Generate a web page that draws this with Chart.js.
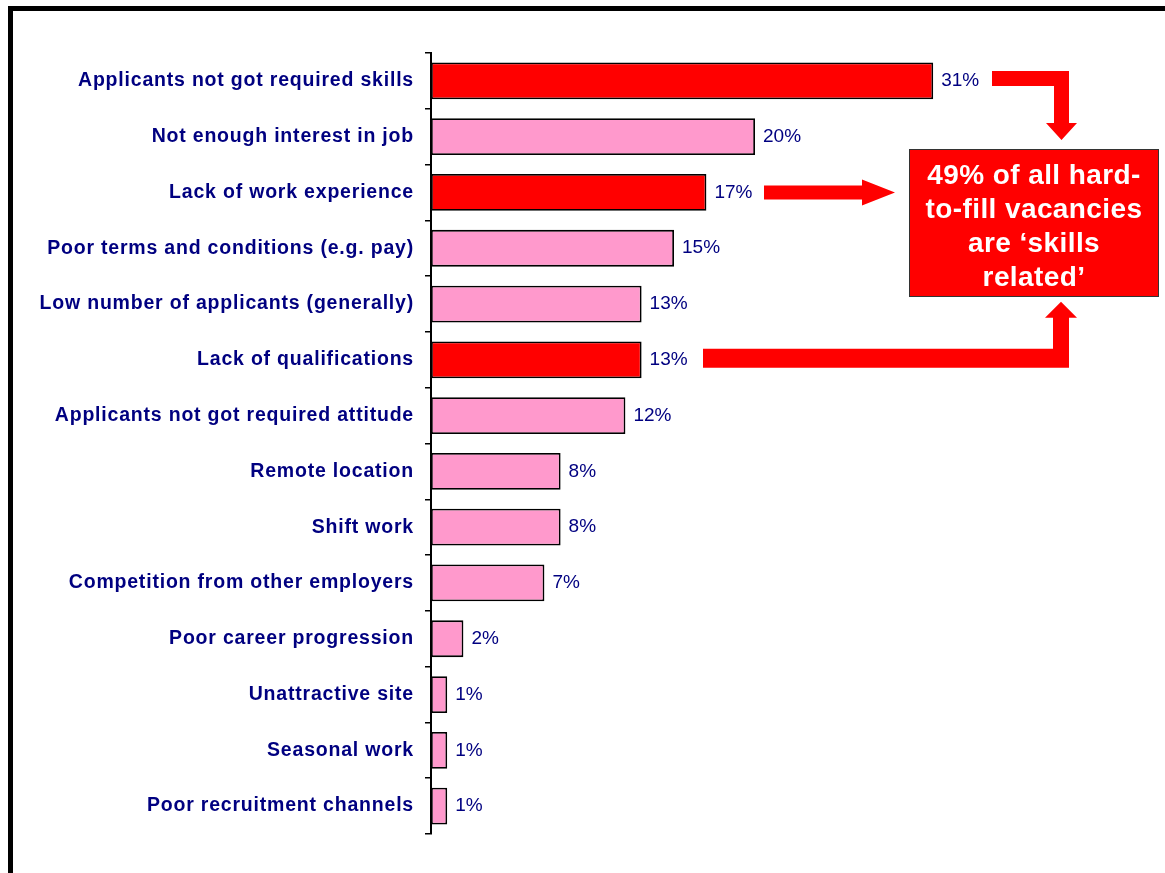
<!DOCTYPE html>
<html>
<head>
<meta charset="utf-8">
<script src="https://cdn.jsdelivr.net/npm/chart.js@4"></script>
<style>
  html, body { margin: 0; padding: 0; background: #fff; }
  canvas { display: block; }
</style>
</head>
<body>
<canvas id="myChart" width="1165" height="873"></canvas>
<script>
const reasons = [
  'Applicants not got required skills',
  'Not enough interest in job',
  'Lack of work experience',
  'Poor terms and conditions (e.g. pay)',
  'Low number of applicants (generally)',
  'Lack of qualifications',
  'Applicants not got required attitude',
  'Remote location',
  'Shift work',
  'Competition from other employers',
  'Poor career progression',
  'Unattractive site',
  'Seasonal work',
  'Poor recruitment channels',
];
const shares = [31, 20, 17, 15, 13, 13, 12, 8, 8, 7, 2, 1, 1, 1];
// reasons counted as skills related
const skillsRelated = [0, 2, 5];
const calloutLines = ['49% of all hard-', 'to-fill vacancies', 'are \u2018skills', 'related\u2019'];

const RED = '#ff0000';
const PINK = '#ff99cc';
const NAVY = '#000080';

const barColours = shares.map((v, i) => (skillsRelated.includes(i) ? RED : PINK));

// black frame along top and left edges; also widen the axis lettering a touch
const framePlugin = {
  id: 'frame',
  beforeDraw(chart) {
    const ctx = chart.ctx;
    ctx.save();
    ctx.fillStyle = '#000';
    ctx.fillRect(8, 6, chart.width - 8, 5);
    ctx.fillRect(8, 6, 5, chart.height - 6);
    ctx.restore();
    ctx.letterSpacing = '0.8px';
  },
  beforeDatasetsDraw(chart) {
    chart.ctx.letterSpacing = '0px';
  },
};

// percentage at the end of each bar
const valueLabels = {
  id: 'valueLabels',
  afterDatasetsDraw(chart) {
    const ctx = chart.ctx;
    const meta = chart.getDatasetMeta(0);
    ctx.save();
    ctx.font = '19px "Liberation Sans", Arial, sans-serif';
    ctx.fillStyle = NAVY;
    ctx.textAlign = 'left';
    ctx.textBaseline = 'middle';
    meta.data.forEach((bar, i) => {
      ctx.fillText(shares[i] + '%', bar.x + 8, bar.y);
    });
    ctx.restore();
  },
};

// callout box and the arrows feeding into it
const callout = {
  id: 'callout',
  afterDraw(chart) {
    const ctx = chart.ctx;
    const y = chart.scales.y;
    const cy = (i) => y.getPixelForValue(i);

    ctx.save();
    ctx.fillStyle = RED;

    // from the first bar: right then down
    let c = cy(0);
    ctx.beginPath();
    ctx.moveTo(992, c - 10);
    ctx.lineTo(1069, c - 10);
    ctx.lineTo(1069, c + 42);
    ctx.lineTo(1077, c + 42);
    ctx.lineTo(1061.5, c + 59);
    ctx.lineTo(1046, c + 42);
    ctx.lineTo(1054, c + 42);
    ctx.lineTo(1054, c + 5);
    ctx.lineTo(992, c + 5);
    ctx.closePath();
    ctx.fill();

    // from work experience: straight right
    c = cy(2);
    ctx.beginPath();
    ctx.moveTo(764, c - 7);
    ctx.lineTo(862, c - 7);
    ctx.lineTo(862, c - 13);
    ctx.lineTo(895, c);
    ctx.lineTo(862, c + 13);
    ctx.lineTo(862, c + 7);
    ctx.lineTo(764, c + 7);
    ctx.closePath();
    ctx.fill();

    // from qualifications: right then up
    c = cy(5);
    ctx.beginPath();
    ctx.moveTo(703, c + 8);
    ctx.lineTo(1069, c + 8);
    ctx.lineTo(1069, c - 42);
    ctx.lineTo(1077, c - 42);
    ctx.lineTo(1061, c - 58);
    ctx.lineTo(1045, c - 42);
    ctx.lineTo(1053, c - 42);
    ctx.lineTo(1053, c - 11);
    ctx.lineTo(703, c - 11);
    ctx.closePath();
    ctx.fill();

    // box
    ctx.fillStyle = RED;
    ctx.fillRect(909, 149, 250, 148);
    ctx.strokeStyle = '#333';
    ctx.lineWidth = 1;
    ctx.strokeRect(909.5, 149.5, 249, 147);

    ctx.fillStyle = '#fff';
    ctx.font = 'bold 28px "Liberation Sans", Arial, sans-serif';
    ctx.letterSpacing = '0.4px';
    ctx.textAlign = 'center';
    ctx.textBaseline = 'middle';
    calloutLines.forEach((line, i) => {
      ctx.fillText(line, 1034, 176 + i * 34);
    });
    ctx.letterSpacing = '0px';
    ctx.restore();
  },
};

const data = {
  labels: reasons,
  datasets: [
    {
      data: shares,
      backgroundColor: barColours,
      borderColor: '#000',
      borderWidth: 1.8,
      borderSkipped: false,
      categoryPercentage: 1,
      barPercentage: 0.66,
    },
  ],
};

const config = {
  type: 'bar',
  data: data,
  options: {
    indexAxis: 'y',
    responsive: false,
    animation: false,
    layout: {
      padding: { left: 0, top: 53, right: 5, bottom: 39 },
    },
    plugins: {
      legend: { display: false },
      tooltip: { enabled: false },
    },
    scales: {
      x: {
        display: false,
        min: 0,
        max: 45,
      },
      y: {
        afterFit(scale) {
          scale.width = 431;
        },
        grid: {
          drawOnChartArea: false,
          tickLength: 6,
          color: '#000',
          lineWidth: 1.5,
        },
        border: {
          display: true,
          color: '#000',
          width: 2,
        },
        ticks: {
          padding: 11,
          color: NAVY,
          font: {
            family: '"Liberation Sans", Arial, sans-serif',
            size: 19.5,
            weight: 'bold',
          },
        },
      },
    },
  },
  plugins: [framePlugin, valueLabels, callout],
};

const myChart = new Chart(document.getElementById('myChart'), config);
</script>
</body>
</html>
